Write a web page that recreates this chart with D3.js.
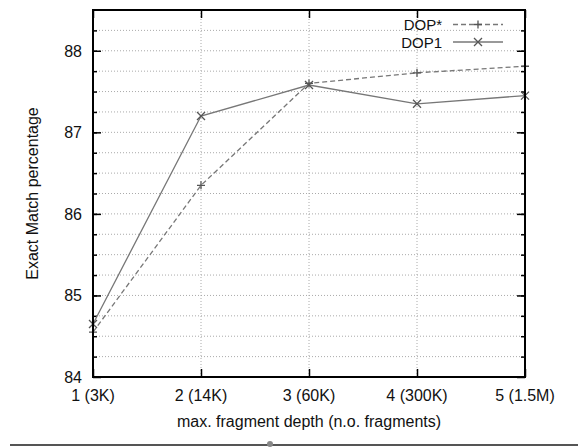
<!DOCTYPE html>
<html>
<head>
<meta charset="utf-8">
<script src="https://cdn.jsdelivr.net/npm/d3@7"></script>
<style>
  body { margin: 0; background: #fff; }
  svg { display: block; font-family: "Liberation Sans", Arial, sans-serif; }
</style>
</head>
<body>
<svg width="578" height="447"></svg>
<script>
// x categories and their labels
let depths = [1, 2, 3, 4, 5];
let depthLabels = ['1 (3K)', '2 (14K)', '3 (60K)', '4 (300K)', '5 (1.5M)'];

// series values
let dopStar = [84.55, 86.35, 87.60, 87.73, 87.81];
let dop1 = [84.65, 87.20, 87.58, 87.35, 87.45];

let yTicks = [84, 85, 86, 87, 88];

let margin = {top: 10, right: 53, bottom: 70, left: 93};
let width = 578 - margin.left - margin.right;
let height = 447 - margin.top - margin.bottom;

let svg = d3.select('svg');
let g = svg.append('g')
  .attr('transform', `translate(${margin.left},${margin.top})`);

let xScale = d3.scaleLinear().domain([1, 5]).range([0, width]);
let yScale = d3.scaleLinear().domain([84, 88.5]).range([height, 0]);

let minorY = d3.range(84.25, 88.5, 0.25);

// dotted grid
g.selectAll('.hgrid')
  .data(minorY)
  .enter().append('line')
  .attr('x1', 0).attr('x2', width)
  .attr('y1', d => yScale(d)).attr('y2', d => yScale(d))
  .attr('stroke', '#aaa')
  .attr('stroke-width', 1)
  .attr('stroke-dasharray', '1,2');

g.selectAll('.vgrid')
  .data(depths.slice(1, 4))
  .enter().append('line')
  .attr('x1', d => xScale(d)).attr('x2', d => xScale(d))
  .attr('y1', 0).attr('y2', height)
  .attr('stroke', '#aaa')
  .attr('stroke-width', 1)
  .attr('stroke-dasharray', '1,2');

// ticks pointing inward on all four sides
let yAxisL = d3.axisRight(yScale).tickValues(minorY).tickSize(4).tickFormat('');
let yAxisR = d3.axisLeft(yScale).tickValues(minorY).tickSize(4).tickFormat('');
g.append('g').call(yAxisL).call(a => a.select('.domain').remove());
g.append('g').attr('transform', `translate(${width},0)`).call(yAxisR).call(a => a.select('.domain').remove());
g.append('g').call(d3.axisRight(yScale).tickValues(yTicks).tickSize(8).tickFormat(''))
  .call(a => a.select('.domain').remove());
g.append('g').attr('transform', `translate(${width},0)`)
  .call(d3.axisLeft(yScale).tickValues(yTicks).tickSize(8).tickFormat(''))
  .call(a => a.select('.domain').remove());
g.append('g').attr('transform', `translate(0,${height})`)
  .call(d3.axisTop(xScale).tickValues(depths).tickSize(8).tickFormat(''))
  .call(a => a.select('.domain').remove());
g.append('g')
  .call(d3.axisBottom(xScale).tickValues(depths).tickSize(8).tickFormat(''))
  .call(a => a.select('.domain').remove());
g.selectAll('.tick line').attr('stroke', '#000').attr('stroke-width', 1.5);

// tick labels
g.selectAll('.ylab')
  .data(yTicks)
  .enter().append('text')
  .attr('x', -11)
  .attr('y', d => yScale(d) + 6)
  .attr('text-anchor', 'end')
  .attr('font-size', 16)
  .attr('fill', '#111')
  .text(d => d);

g.selectAll('.xlab')
  .data(depths)
  .enter().append('text')
  .attr('x', d => xScale(d))
  .attr('y', height + 24)
  .attr('text-anchor', 'middle')
  .attr('font-size', 16)
  .attr('fill', '#111')
  .text((d, i) => depthLabels[i]);

// axis titles
g.append('text')
  .attr('x', width / 2)
  .attr('y', height + 50)
  .attr('text-anchor', 'middle')
  .attr('font-size', 16)
  .attr('fill', '#111')
  .text('max. fragment depth (n.o. fragments)');

g.append('text')
  .attr('transform', `translate(${-55},${height / 2}) rotate(-90)`)
  .attr('text-anchor', 'middle')
  .attr('font-size', 16)
  .attr('fill', '#111')
  .text('Exact Match percentage');

// series lines
let line = d3.line()
  .x((d, i) => xScale(depths[i]))
  .y(d => yScale(d));

g.append('path')
  .datum(dopStar)
  .attr('d', line)
  .attr('fill', 'none')
  .attr('stroke', '#777')
  .attr('stroke-width', 1.3)
  .attr('stroke-dasharray', '5,3');

g.append('path')
  .datum(dop1)
  .attr('d', line)
  .attr('fill', 'none')
  .attr('stroke', '#777')
  .attr('stroke-width', 1.3);

let plus = 'M-4,0H4M0,-4V4';
let cross = 'M-4,-4L4,4M-4,4L4,-4';

g.selectAll('.pstar')
  .data(dopStar)
  .enter().append('path')
  .attr('transform', (d, i) => `translate(${xScale(depths[i])},${yScale(d)})`)
  .attr('d', plus)
  .attr('stroke', '#555')
  .attr('stroke-width', 1.3);

g.selectAll('.p1')
  .data(dop1)
  .enter().append('path')
  .attr('transform', (d, i) => `translate(${xScale(depths[i])},${yScale(d)})`)
  .attr('d', cross)
  .attr('stroke', '#555')
  .attr('stroke-width', 1.3);

// legend
let legend = g.append('g').attr('transform', `translate(${width - 83},0)`);
let legendItems = [
  {name: 'DOP*', dash: '5,3', marker: plus},
  {name: 'DOP1', dash: null, marker: cross}
];
legendItems.forEach((it, i) => {
  let y = 14.5 + i * 17.5;
  legend.append('text')
    .attr('x', 0).attr('y', y + 5.5)
    .attr('text-anchor', 'end')
    .attr('font-size', 15)
    .attr('fill', '#111')
    .text(it.name);
  legend.append('line')
    .attr('x1', 11).attr('x2', 61)
    .attr('y1', y).attr('y2', y)
    .attr('stroke', '#777')
    .attr('stroke-width', 1.3)
    .attr('stroke-dasharray', it.dash);
  legend.append('path')
    .attr('transform', `translate(36,${y})`)
    .attr('d', it.marker)
    .attr('stroke', '#555')
    .attr('stroke-width', 1.3);
});

// frame
g.append('rect')
  .attr('width', width).attr('height', height)
  .attr('fill', 'none')
  .attr('stroke', '#000')
  .attr('stroke-width', 2);

// slider bar at the bottom of the screenshot
svg.append('line')
  .attr('x1', 10).attr('x2', 578)
  .attr('y1', 445).attr('y2', 445)
  .attr('stroke', '#555').attr('stroke-width', 2);
svg.append('circle')
  .attr('cx', 270).attr('cy', 444).attr('r', 3)
  .attr('fill', '#888');
</script>
</body>
</html>
